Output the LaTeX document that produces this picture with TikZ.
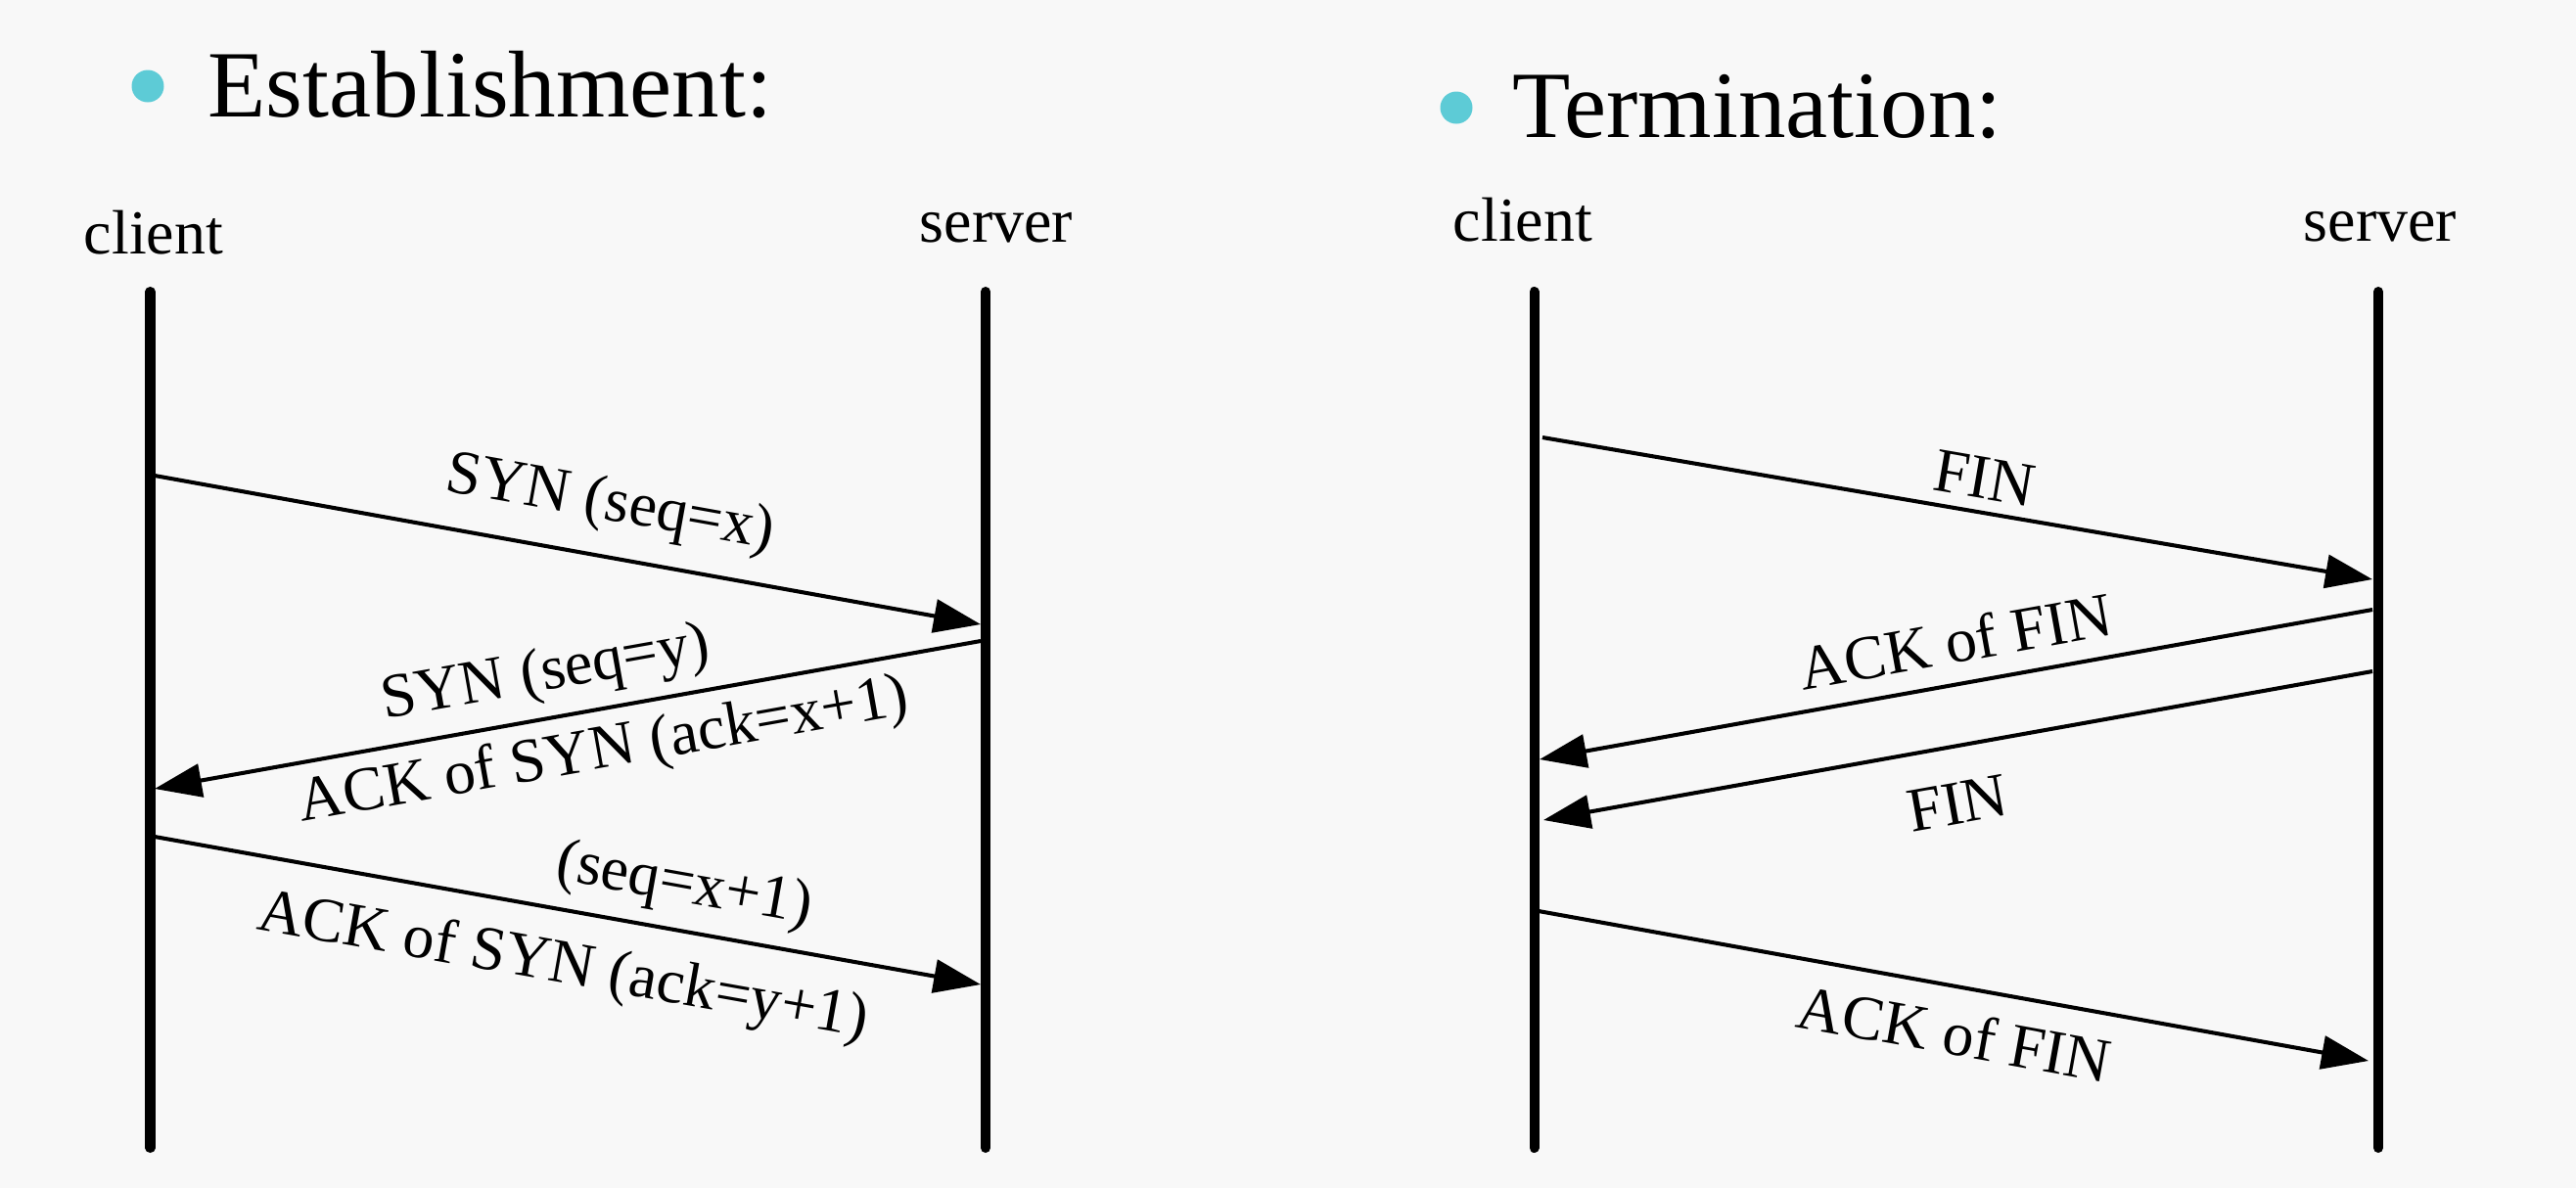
\documentclass[tikz,border=0pt]{standalone}
\usepackage{fontspec}
\setmainfont{Liberation Serif}
\usetikzlibrary{arrows.meta}
\definecolor{bgc}{HTML}{F8F8F8}
\definecolor{bulletc}{HTML}{5DCBD6}
\tikzset{
  lifeline/.style={line width=2.85pt, line cap=round},
  msg/.style={line width=1.15pt, -{Triangle[length=4.8mm, width=3.4mm]}},
  lbl/.style={font=\fontsize{18.2pt}{20pt}\selectfont, inner sep=0pt},
  head/.style={font=\fontsize{27.6pt}{31pt}\selectfont, inner sep=0pt, anchor=base west},
  who/.style={font=\fontsize{18.2pt}{20pt}\selectfont, inner sep=0pt, anchor=base},
  bul/.style={circle, fill=bulletc, minimum size=3.3mm, inner sep=0pt}
}
\begin{document}
\begin{tikzpicture}
\fill[bgc] (0,0) rectangle (26.32,-12.14);
\useasboundingbox (0,0) rectangle (26.32,-12.14);

% headings
\node[bul] (b1) at (1.51,-0.88) {};
\node[head] (h1) at (2.12,-1.19) {Establishment:};
\node[bul] (b2) at (14.88,-1.10) {};
\node[head] (h2) at (15.45,-1.40) {Termination:};

% participants
\node[who] (lc) at (1.57,-2.59) {client};
\node[who] (ls) at (10.18,-2.47) {server};
\node[who] (rc) at (15.56,-2.46) {client};
\node[who] (rs) at (24.32,-2.46) {server};

% lifelines
\coordinate (lcT) at (1.535,-2.98); \coordinate (lcB) at (1.535,-11.73);
\coordinate (lsT) at (10.07,-2.98); \coordinate (lsB) at (10.07,-11.73);
\coordinate (rcT) at (15.675,-2.98); \coordinate (rcB) at (15.675,-11.73);
\coordinate (rsT) at (24.30,-2.98); \coordinate (rsB) at (24.30,-11.73);
\draw[lifeline] (lcT) -- (lcB);
\draw[lifeline] (lsT) -- (lsB);
\draw[lifeline] (rcT) -- (rcB);
\draw[lifeline] (rsT) -- (rsB);

% establishment messages
\coordinate (a1s) at (1.58,-4.86);  \coordinate (a1e) at (10.02,-6.38);
\coordinate (a2s) at (10.02,-6.55); \coordinate (a2e) at (1.58,-8.06);
\coordinate (a3s) at (1.58,-8.55);  \coordinate (a3e) at (10.02,-10.06);
\draw[msg] (a1s) -- (a1e);
\draw[msg] (a2s) -- (a2e);
\draw[msg] (a3s) -- (a3e);
\node[lbl, rotate=-10.2] (t1) at (6.23,-5.16) {SYN (seq=x)};
\node[lbl, rotate=10.1] (t2) at (5.58,-6.90) {SYN (seq=y)};
\node[lbl, rotate=10.1] (t3) at (6.17,-7.69) {ACK of SYN (ack=x+1)};
\node[lbl, rotate=-10.1] (t4) at (6.99,-9.06) {(seq=x+1)};
\node[lbl, rotate=-10.1] (t5) at (5.75,-9.89) {ACK of SYN (ack=y+1)};

% termination messages
\coordinate (r1s) at (15.76,-4.47); \coordinate (r1e) at (24.24,-5.92);
\coordinate (r2s) at (24.24,-6.23); \coordinate (r2e) at (15.73,-7.76);
\coordinate (r3s) at (24.24,-6.86); \coordinate (r3e) at (15.77,-8.38);
\coordinate (r4s) at (15.72,-9.31); \coordinate (r4e) at (24.20,-10.84);
\draw[msg] (r1s) -- (r1e);
\draw[msg] (r2s) -- (r2e);
\draw[msg] (r3s) -- (r3e);
\draw[msg] (r4s) -- (r4e);
\node[lbl, rotate=-9.7] (t6) at (20.28,-4.89) {FIN};
\node[lbl, rotate=10.2] (t7) at (19.98,-6.55) {ACK of FIN};
\node[lbl, rotate=10.2] (t8) at (20.00,-8.21) {FIN};
\node[lbl, rotate=-10.2] (t9) at (19.97,-10.56) {ACK of FIN};
\end{tikzpicture}
\end{document}
